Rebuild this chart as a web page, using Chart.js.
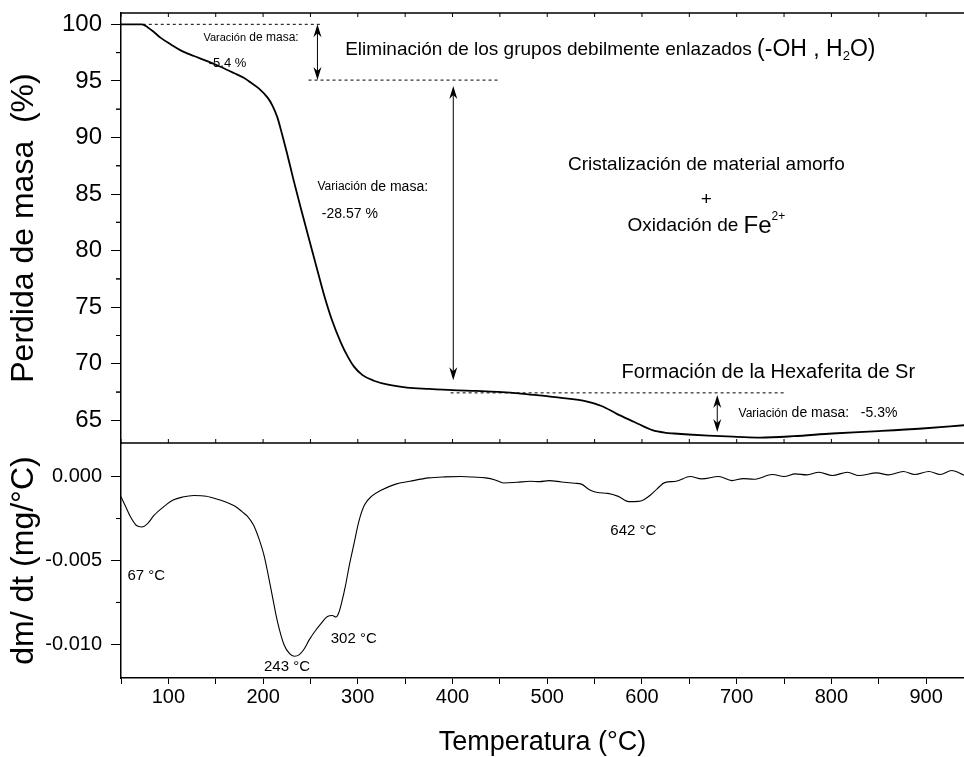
<!DOCTYPE html>
<html>
<head>
<meta charset="utf-8">
<script src="https://cdn.jsdelivr.net/npm/chart.js@4.4.1/dist/chart.umd.min.js"></script>
<style>
html, body { margin: 0; padding: 0; background: #fff; }
#wrap { position: relative; width: 964px; height: 757px; }
</style>
</head>
<body>
<div id="wrap"><canvas id="tga" width="964" height="757"></canvas></div>
<script>
// TG curve: temperature (°C) and remaining mass (%)
const tgTemps = [50, 60, 72, 78, 85, 92, 103, 113, 127, 141, 155, 169, 180, 187, 196, 205, 210, 215, 220, 225,
	232, 240, 247, 255, 264, 273, 282, 289, 296, 305, 317, 332, 352, 375, 400, 425, 448, 475, 497, 520,
	539, 558, 573, 592, 611, 625, 634, 649, 670, 700, 725, 760, 801, 850, 896, 940]
const tgMass = [100, 100, 100, 99.75, 99.3, 98.8, 98.2, 97.7, 97.2, 96.75, 96.25, 95.7, 95.25, 94.85, 94.3, 93.5, 92.8, 91.8, 90.3, 88.7,
	86.3, 83.7, 81.5, 79.0, 76.2, 73.8, 71.9, 70.7, 69.75, 69.0, 68.5, 68.15, 67.9, 67.78, 67.67, 67.6, 67.52, 67.35, 67.16, 66.95,
	66.72, 66.25, 65.6, 64.86, 64.13, 63.9, 63.84, 63.75, 63.65, 63.55, 63.48, 63.6, 63.84, 64.05, 64.28, 64.57]

// DTG curve: temperature (°C) and dm/dt (mg/°C)
const dtgTemps = [50, 55, 60, 66, 72, 78, 85, 95, 105, 115, 127, 140, 152, 162, 170, 178, 184, 190, 195, 201,
	208, 215, 222, 228, 233, 238, 243, 249, 255, 262, 268, 273, 277, 280, 283, 287, 291, 296, 301, 307,
	315, 324, 340, 355, 375, 392, 409, 422, 435, 445, 454, 468, 482, 492, 502, 515, 529, 536, 545, 553,
	564, 575, 586, 596, 602, 609, 616, 624, 636, 651, 663, 681, 695, 707, 718, 738, 750, 762, 774, 787,
	801, 817, 829, 848, 860, 876, 888, 903, 915, 927, 940]
const dtgRate = [-0.0012, -0.0018, -0.0024, -0.0029, -0.0030, -0.0028, -0.0023, -0.0018, -0.0014, -0.00122, -0.00113, -0.00117, -0.00135, -0.00155, -0.00175, -0.0021, -0.0024, -0.0029, -0.0036, -0.0047,
	-0.0066, -0.0086, -0.0100, -0.01055, -0.0107, -0.01062, -0.0103, -0.0097, -0.0092, -0.0087, -0.00833, -0.00828, -0.00837, -0.0081, -0.0075, -0.0065, -0.0053, -0.0040, -0.0027, -0.0017,
	-0.00115, -0.00083, -0.00045, -0.00028, -0.00008, -0.00002, 0, -0.00003, -0.00008, -0.0002, -0.00038, -0.00034, -0.00028, -0.0003, -0.00024, -0.00032, -0.0004, -0.00045, -0.0008, -0.00095,
	-0.001, -0.00118, -0.00149, -0.00148, -0.00138, -0.0011, -0.00073, -0.00036, -0.00028, 0, -0.00014, 0, -0.00024, -0.00012, -0.00016, 0.00012, 0, 0.00016, 0.0001, 0.00026,
	0.00006, 0.00026, 0.00006, 0.00022, 0.0001, 0.0003, 0.00012, 0.0003, 0.00012, 0.00036, 0.00008]

// axis ranges / ticks
const tempRange = [50, 940]
const massRange = [63, 101]
const rateRange = [-0.012, 0.002]

const FONT = "'Liberation Sans', Arial, sans-serif"
Chart.defaults.font.family = FONT
Chart.defaults.color = "#000"

//draw a row of text pieces (with sub/superscripts)
function drawRuns(ctx, x, y, runs, align) {
	let total = 0
	runs.forEach(r => {
		ctx.font = r.size + "px " + FONT
		total += ctx.measureText(r.t).width
	})
	let cx = align === "center" ? x - total / 2 : x
	ctx.textBaseline = "middle"
	ctx.textAlign = "left"
	runs.forEach(r => {
		ctx.font = r.size + "px " + FONT
		ctx.fillText(r.t, cx, y + (r.dy || 0))
		cx += ctx.measureText(r.t).width
	})
}

function arrowHead(ctx, x, y, dir) {
	ctx.beginPath()
	ctx.moveTo(x, y)
	ctx.lineTo(x - 4, y - dir * 13)
	ctx.lineTo(x, y - dir * 9)
	ctx.lineTo(x + 4, y - dir * 13)
	ctx.closePath()
	ctx.fill()
}

function doubleArrow(ctx, x, y1, y2) {
	ctx.beginPath()
	ctx.moveTo(x, y1 + 4)
	ctx.lineTo(x, y2 - 4)
	ctx.stroke()
	arrowHead(ctx, x, y1, -1)
	arrowHead(ctx, x, y2, 1)
}

function dashed(ctx, x1, x2, y) {
	ctx.save()
	ctx.setLineDash([3, 3])
	ctx.beginPath()
	ctx.moveTo(x1, y)
	ctx.lineTo(x2, y)
	ctx.stroke()
	ctx.restore()
}

//minor ticks halfway between the labelled ones
function minorTicks(ctx, scale, len) {
	const vals = scale.ticks.map(t => t.value)
	const step = vals[1] - vals[0]
	ctx.beginPath()
	vals.forEach(v => {
		[v - step / 2, v + step / 2].forEach(m => {
			if (m > scale.min && m < scale.max) {
				const py = scale.getPixelForValue(m)
				ctx.moveTo(scale.right - len, py)
				ctx.lineTo(scale.right, py)
			}
		})
	})
	ctx.stroke()
}

const annotations = {
	id: "annotations",
	afterDraw(chart) {
		const ctx = chart.ctx
		const { x, y, y2 } = chart.scales
		const X = v => x.getPixelForValue(v)
		const M = v => y.getPixelForValue(v)
		const D = v => y2.getPixelForValue(v)
		ctx.save()
		ctx.strokeStyle = "#000"
		ctx.fillStyle = "#000"

		//frame of the top panel
		ctx.lineWidth = 1.5
		ctx.beginPath()
		ctx.moveTo(chart.chartArea.left, y.top)
		ctx.lineTo(chart.chartArea.right, y.top)
		ctx.moveTo(chart.chartArea.left, y.bottom)
		ctx.lineTo(chart.chartArea.right, y.bottom)
		ctx.stroke()
		ctx.lineWidth = 1
		ctx.beginPath()
		x.ticks.forEach(t => {
			const px = X(t.value)
			ctx.moveTo(px, y.top)
			ctx.lineTo(px, y.top + 4)
			ctx.moveTo(px, y.bottom)
			ctx.lineTo(px, y.bottom - 4)
		})
		ctx.stroke()
		minorTicks(ctx, y, 5)
		minorTicks(ctx, y2, 5)

		//mass-loss markers
		ctx.lineWidth = 1
		dashed(ctx, X(73), X(261), M(100))
		dashed(ctx, X(248), X(450), M(95.07))
		dashed(ctx, X(398), X(752), M(67.43))
		doubleArrow(ctx, X(257.4), M(100), M(95.07))
		doubleArrow(ctx, X(400.8), M(94.54), M(68.55))
		doubleArrow(ctx, X(679.5), M(67.24), M(63.98))

		//texts
		drawRuns(ctx, X(137), M(98.79), [{ t: "Varación", size: 11 }, { t: " de masa:", size: 12 }])
		drawRuns(ctx, X(142.6), M(96.5), [{ t: "-5.4 %", size: 13 }])
		drawRuns(ctx, X(286.7), M(97.72), [
			{ t: "Eliminación de los grupos debilmente enlazados ", size: 19 },
			{ t: "(-OH , H", size: 23 },
			{ t: "2", size: 13, dy: 6 },
			{ t: "O)", size: 23 }
		])
		drawRuns(ctx, X(257.4), M(85.64), [{ t: "Variación", size: 12 }, { t: " de masa:", size: 14 }])
		drawRuns(ctx, X(262), M(83.23), [{ t: "-28.57 %", size: 14 }])
		drawRuns(ctx, X(668), M(87.56), [{ t: "Cristalización de material amorfo", size: 19 }], "center")
		drawRuns(ctx, X(668), M(84.47), [{ t: "+", size: 19 }], "center")
		drawRuns(ctx, X(668), M(82.17), [
			{ t: "Oxidación de ", size: 19 },
			{ t: "Fe", size: 24 },
			{ t: "2+", size: 12, dy: -9 }
		], "center")
		drawRuns(ctx, X(578.5), M(69.26), [{ t: "Formación de la Hexaferita de Sr", size: 20 }])
		drawRuns(ctx, X(702), M(65.63), [{ t: "Variación", size: 12 }, { t: " de masa:   -5.3%", size: 14 }])

		drawRuns(ctx, X(56.8), D(-0.00589), [{ t: "67 °C", size: 15 }])
		drawRuns(ctx, X(201), D(-0.01131), [{ t: "243 °C", size: 15 }])
		drawRuns(ctx, X(271.4), D(-0.00964), [{ t: "302 °C", size: 15 }])
		drawRuns(ctx, X(566.6), D(-0.00321), [{ t: "642 °C", size: 15 }])
		ctx.restore()
	}
}

const tgPoints = tgTemps.map((t, i) => ({ x: t, y: tgMass[i] }))
const dtgPoints = dtgTemps.map((t, i) => ({ x: t, y: dtgRate[i] }))

const axisGrid = { display: true, drawOnChartArea: false, drawTicks: true, color: "#000", lineWidth: 1 }
const axisBorder = { display: true, color: "#000", width: 1.5 }

//fixed box width; no extra room for the end labels
function fitLeft(s) {
	s.width = 121
	s.paddingTop = 0
	s.paddingBottom = 0
}

new Chart(document.getElementById("tga"), {
	type: "line",
	data: {
		datasets: [
			{
				data: tgPoints,
				yAxisID: "y",
				borderColor: "#000",
				borderWidth: 1.8,
				pointRadius: 0,
				cubicInterpolationMode: "monotone",
				fill: false
			},
			{
				data: dtgPoints,
				yAxisID: "y2",
				borderColor: "#000",
				borderWidth: 1.1,
				pointRadius: 0,
				cubicInterpolationMode: "monotone",
				fill: false
			}
		]
	},
	options: {
		responsive: false,
		animation: false,
		devicePixelRatio: 1,
		layout: { padding: { top: 13, left: 0, right: 0, bottom: 0 } },
		plugins: { legend: { display: false }, tooltip: { enabled: false } },
		scales: {
			x: {
				type: "linear",
				position: "bottom",
				min: tempRange[0],
				max: tempRange[1],
				afterFit: s => { s.height = 79 },
				ticks: {
					stepSize: 50,
					includeBounds: false,
					autoSkip: false,
					maxRotation: 0,
					padding: 3,
					font: { size: 20, lineHeight: 1 },
					callback: v => (v % 100 === 0 ? v : "")
				},
				grid: Object.assign({}, axisGrid, { tickLength: 6 }),
				border: axisBorder,
				title: {
					display: true,
					text: "Temperatura (°C)",
					font: { size: 27, lineHeight: 1 },
					padding: { top: 0, bottom: 1 }
				}
			},
			// listed first so the stack puts it below the mass axis
			y2: {
				type: "linear",
				position: "left",
				stack: "tga",
				stackWeight: 235,
				min: rateRange[0],
				max: rateRange[1],
				afterFit: fitLeft,
				ticks: {
					stepSize: 0.005,
					includeBounds: false,
					padding: 9,
					font: { size: 20, lineHeight: 1 },
					callback: v => v.toFixed(3)
				},
				grid: Object.assign({}, axisGrid, { tickLength: 10 }),
				border: axisBorder,
				title: {
					display: true,
					text: "dm/ dt (mg/°C)",
					font: { size: 32, lineHeight: 1 },
					padding: { top: 8, bottom: 0 }
				}
			},
			y: {
				type: "linear",
				position: "left",
				stack: "tga",
				stackWeight: 430,
				min: massRange[0],
				max: massRange[1],
				afterFit: fitLeft,
				ticks: {
					stepSize: 5,
					includeBounds: false,
					padding: 9,
					font: { size: 24, lineHeight: 1 },
					callback: v => v
				},
				grid: Object.assign({}, axisGrid, { tickLength: 10 }),
				border: axisBorder,
				title: {
					display: true,
					text: "Perdida de masa  (%)",
					font: { size: 32, lineHeight: 1 },
					padding: { top: 8, bottom: 0 }
				}
			}
		}
	},
	plugins: [annotations]
})
</script>
</body>
</html>
